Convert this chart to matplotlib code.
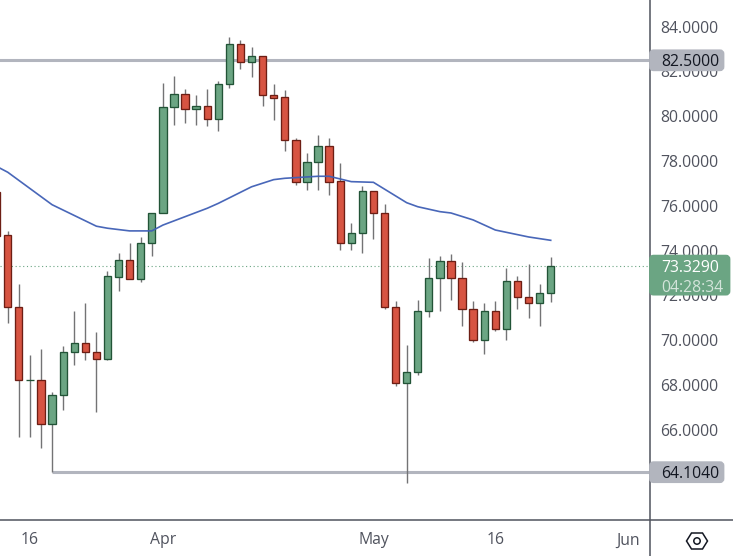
import matplotlib
matplotlib.use("Agg")
import matplotlib.pyplot as plt
from matplotlib.patches import FancyBboxPatch, Polygon, Circle, Rectangle

plt.rcParams['font.family'] = ['Open Sans', 'DejaVu Sans']

# Daily candles (first candle is cut by the left edge)
candle_index = list(range(-1, 50))
opens = [76.62, 74.68, 71.46, 68.21, 68.21, 66.27, 67.54, 69.46, 69.86, 69.46, 69.17, 72.83, 73.57, 72.75, 74.33,
         75.67, 80.40, 80.98, 80.31, 80.45, 79.87, 81.43, 83.21, 82.41, 82.68, 80.94, 80.85, 78.93, 77.08, 77.94,
         78.66, 77.10, 74.33, 74.77, 76.65, 75.69, 71.50, 68.10, 68.57, 71.29, 72.76, 73.52, 72.76, 71.38, 70.00,
         71.29, 70.49, 72.63, 71.92, 71.65, 72.09]
closes = [74.65, 71.46, 68.21, 68.21, 66.27, 67.54, 69.46, 69.86, 69.46, 69.17, 72.85, 73.57, 72.75, 74.33, 75.67,
          80.40, 80.98, 80.31, 80.45, 79.87, 81.43, 83.21, 82.41, 82.68, 80.94, 80.83, 78.93, 77.08, 77.94, 78.66,
          77.08, 74.33, 74.77, 76.65, 75.69, 71.50, 68.10, 68.57, 71.29, 72.76, 73.52, 72.76, 71.38, 70.00, 71.29,
          70.49, 72.63, 71.92, 71.65, 72.09, 73.33]
highs = [76.90, 74.88, 72.51, 69.34, 69.61, 67.69, 69.74, 71.30, 71.66, 70.37, 73.09, 73.89, 74.34, 74.61, 75.67,
         81.49, 81.80, 81.22, 80.95, 81.22, 81.58, 83.54, 83.41, 83.09, 82.68, 81.44, 81.17, 79.03, 78.36, 79.16,
         79.03, 77.91, 75.23, 76.89, 76.65, 76.08, 71.75, 69.79, 71.80, 73.67, 73.76, 73.85, 73.49, 71.75, 71.66,
         71.75, 73.22, 72.87, 73.40, 72.51, 73.72]
lows = [74.50, 70.78, 65.69, 65.69, 65.20, 64.10, 66.90, 68.91, 69.13, 66.81, 69.13, 72.21, 72.75, 72.60, 73.77,
        75.67, 79.62, 79.71, 79.62, 79.58, 79.36, 81.28, 82.11, 81.77, 80.47, 79.85, 78.46, 76.94, 76.72, 76.72,
        76.50, 74.04, 74.03, 73.91, 74.53, 71.41, 67.97, 63.64, 68.46, 71.05, 71.32, 71.81, 70.65, 69.93, 69.40,
        70.42, 70.02, 71.41, 71.00, 70.65, 71.72]

# Moving average vertices
ma_index = [-1, 0, 4, 8, 9, 11, 13, 14, 18, 19, 22, 24, 25, 28, 29, 31, 33, 36, 37, 39, 40, 42, 44, 47, 49]
ma_values = [77.76, 77.50, 76.05, 75.09, 75.00, 74.88, 74.88, 75.14, 75.89, 76.11, 76.85, 77.17, 77.23, 77.32, 77.32,
             77.08, 77.05, 76.14, 75.96, 75.74, 75.68, 75.37, 74.92, 74.61, 74.46]

resistance = 82.5
support = 64.104
support_start = 4
last_price = 73.329
countdown = "04:28:34"
y_ticks = [66, 68, 70, 72, 74, 76, 78, 80, 82, 84]
x_tick_pos = [2, 14, 33, 44, 56]
x_tick_labels = ["16", "Apr", "May", "16", "Jun"]

GREEN, GREEN_EDGE = "#6ba583", "#225437"
RED, RED_EDGE = "#d75442", "#6d1e14"
WICK = "#737375"
MA = "#3f5fb5"
LEVEL = "#b2b5be"
TEXT = "#50535e"
AXIS = "#50535e"
FS = 11.3

W, H = 733, 556
fig = plt.figure(figsize=(W / 100, H / 100), dpi=100)
ax = fig.add_axes([0, (H - 520) / H, 650 / W, 520 / H])
ax.set_xlim(-0.70, 57.96)
ax.set_ylim(61.968, 85.193)

body_w = 0.66
for i, o, c, h, l in zip(candle_index, opens, closes, highs, lows):
    up = c >= o
    ax.plot([i, i], [l, h], color=WICK, lw=1.0, solid_capstyle='butt', zorder=3)
    ax.add_patch(Rectangle((i - body_w / 2, min(o, c)), body_w, max(abs(c - o), 0.001),
                           facecolor=GREEN if up else RED,
                           edgecolor=GREEN_EDGE if up else RED_EDGE, lw=0.95, zorder=4))

ax.plot(ma_index, ma_values, color=MA, lw=1.2, alpha=0.95, zorder=5)
ax.axhline(resistance, color=LEVEL, lw=2.2, zorder=2)
ax.plot([support_start, 60], [support, support], color=LEVEL, lw=2.2, zorder=2, solid_capstyle='butt')
ax.axhline(last_price, color=GREEN, lw=0.8, ls=(0, (1, 2.4)), zorder=2)

ax.yaxis.tick_right()
ax.set_yticks(y_ticks)
ax.set_yticklabels([f"{v:.4f}" for v in y_ticks])
ax.set_xticks(x_tick_pos)
ax.set_xticklabels(x_tick_labels)
ax.tick_params(axis='y', length=0, pad=7.6, labelsize=FS, labelcolor=TEXT)
ax.tick_params(axis='x', length=0, pad=9, labelsize=FS, labelcolor=TEXT)
for s in ax.spines.values():
    s.set_visible(False)

# Overlay in pixel space for the price scale furniture
ov = fig.add_axes([0, 0, 1, 1], facecolor='none')
ov.set_xlim(0, W)
ov.set_ylim(H, 0)
ov.axis('off')
ov.plot([650, 650], [0, H], color=AXIS, lw=1.1)
ov.plot([0, W], [520, 520], color=AXIS, lw=1.1)


def price_y(v):
    return H - ax.transData.transform((0, v))[1]


def tag(yc, half_h, right, color):
    ov.add_patch(FancyBboxPatch((650.5, yc - half_h + 2), right - 652.5, 2 * half_h - 4,
                                boxstyle="round,pad=0,rounding_size=3", mutation_aspect=1,
                                linewidth=2, edgecolor=color, facecolor=color, zorder=6))


for v in (resistance, support):
    y = price_y(v)
    tag(y, 11.5, 725, LEVEL)
    ov.text(661.5, y, f"{v:.4f}", va='center_baseline', ha='left', fontsize=FS, color="#131722", zorder=7)

y = price_y(last_price)
tag(y + 9.5, 21, 731, GREEN)
ov.text(661.5, y, f"{last_price:.4f}", va='center_baseline', ha='left', fontsize=FS, color="white", zorder=7)
ov.text(661.5, y + 20, countdown, va='center_baseline', ha='left', fontsize=FS, color="#d3e4da", zorder=7)

# Settings icon
cx, cy = 697, 541
ov.add_patch(Polygon([(cx - 10.5, cy), (cx - 5.5, cy - 8), (cx + 5.5, cy - 8), (cx + 10.5, cy),
                      (cx + 5.5, cy + 8), (cx - 5.5, cy + 8)], closed=True, facecolor='none',
                     edgecolor="#131722", lw=1.1, zorder=7))
ov.add_patch(Circle((cx, cy), 3.2, facecolor='none', edgecolor="#131722", lw=1.1, zorder=7))

fig.savefig("out.png", dpi=100)
